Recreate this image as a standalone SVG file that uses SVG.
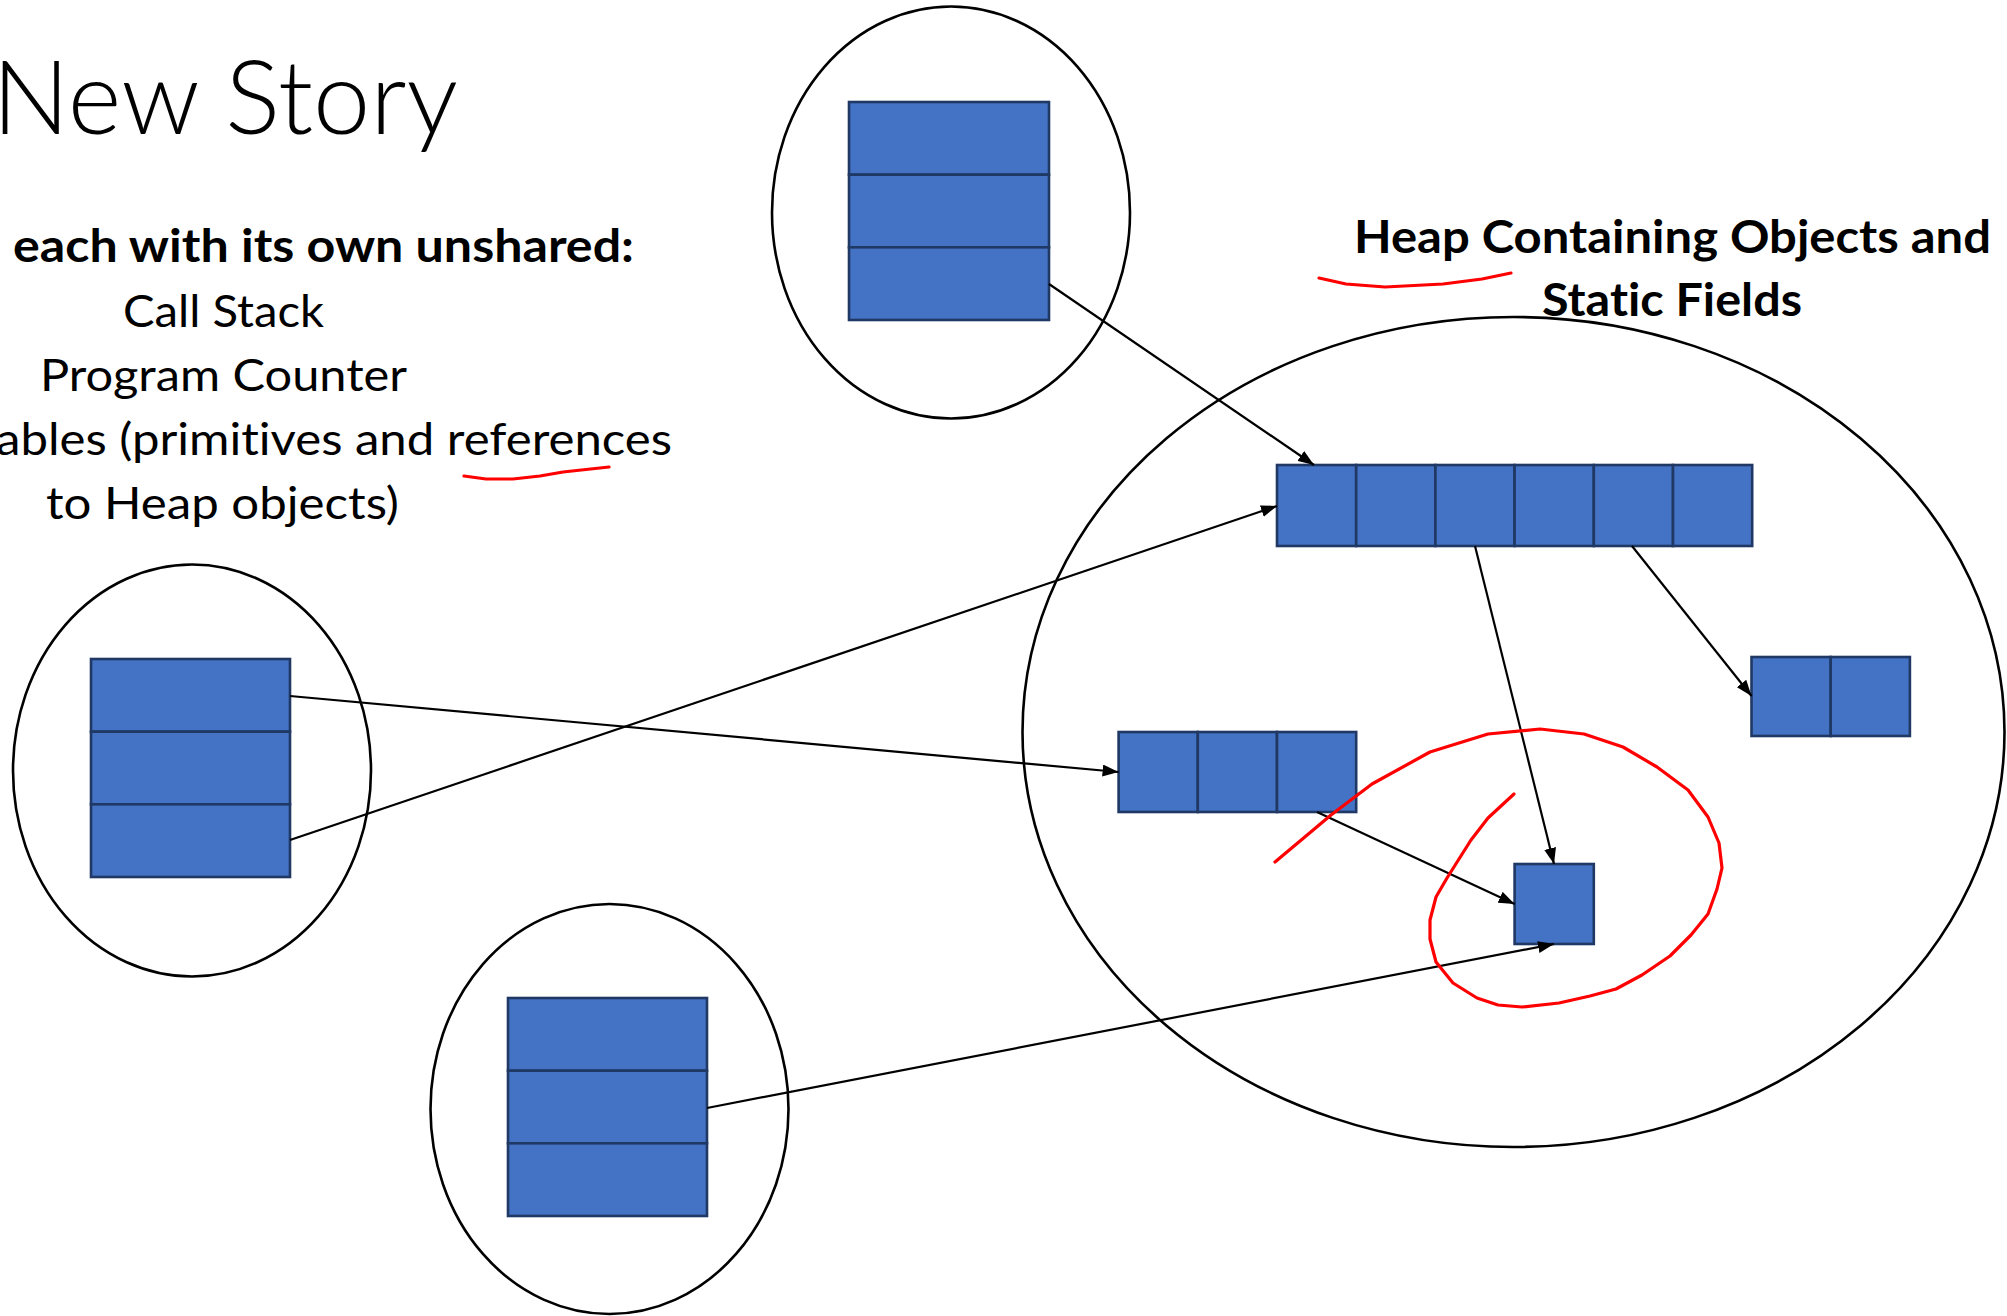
<svg xmlns="http://www.w3.org/2000/svg" width="2007" height="1316" viewBox="0 0 2007 1316">
<defs>
<style>
.bg{fill:#ffffff}
.oval{fill:none;stroke:#000;stroke-width:2.6}
.cell{fill:#4472C4;stroke:#1F3864;stroke-width:2.6}
.conn{fill:none;stroke:#000;stroke-width:2.2}
.ink{fill:none;stroke:#FF0000;stroke-width:3.2;stroke-linejoin:round;stroke-linecap:round}
.t{font-family:Lato,"Liberation Sans",sans-serif;font-size:45px;fill:#000;font-variant-ligatures:none;font-feature-settings:"liga" 0}
.b{font-weight:bold}
.title{font-family:Lato,"Liberation Sans",sans-serif;font-size:103px;font-weight:300;fill:#000;font-variant-ligatures:none}
</style>
<marker id="arr" viewBox="0 0 16 12" markerUnits="userSpaceOnUse" markerWidth="16" markerHeight="12" refX="16" refY="6" orient="auto">
<path d="M0,0 L16,6 L0,12 z" fill="#000"/>
</marker>
</defs>
<rect class="bg" x="0" y="0" width="2007" height="1316"/>

<g id="title-text">
<text class="title" x="-8" y="134" textLength="466" lengthAdjust="spacingAndGlyphs">New Story</text>
</g>

<g id="thread-text">
<text class="t b" x="13" y="262" textLength="621" lengthAdjust="spacingAndGlyphs">each with its own unshared:</text>
<text class="t" x="123" y="327" textLength="201" lengthAdjust="spacingAndGlyphs">Call Stack</text>
<text class="t" x="40" y="391" textLength="367" lengthAdjust="spacingAndGlyphs">Program Counter</text>
<text class="t" x="-4" y="455" textLength="676" lengthAdjust="spacingAndGlyphs">ables (primitives and references</text>
<text class="t" x="46" y="519" textLength="353" lengthAdjust="spacingAndGlyphs">to Heap objects)</text>
</g>

<g id="heap-label">
<text class="t b" x="1354" y="253" textLength="637" lengthAdjust="spacingAndGlyphs">Heap Containing Objects and</text>
<text class="t b" x="1542" y="316" textLength="260" lengthAdjust="spacingAndGlyphs">Static Fields</text>
</g>

<g id="heap">
<ellipse class="oval" cx="1513.5" cy="732" rx="491" ry="415"/>
</g>

<g id="thread-top">
<ellipse class="oval" cx="951" cy="212.5" rx="179" ry="206"/>
<rect class="cell" x="849" y="102" width="200" height="72.7"/>
<rect class="cell" x="849" y="174.7" width="200" height="72.6"/>
<rect class="cell" x="849" y="247.3" width="200" height="72.7"/>
</g>

<g id="thread-left">
<ellipse class="oval" cx="192" cy="770.5" rx="179" ry="206"/>
<rect class="cell" x="91" y="659" width="199" height="72.7"/>
<rect class="cell" x="91" y="731.7" width="199" height="72.6"/>
<rect class="cell" x="91" y="804.3" width="199" height="72.7"/>
</g>

<g id="thread-bottom">
<ellipse class="oval" cx="609.5" cy="1109" rx="179" ry="205"/>
<rect class="cell" x="508" y="998" width="199" height="72.7"/>
<rect class="cell" x="508" y="1070.7" width="199" height="72.6"/>
<rect class="cell" x="508" y="1143.3" width="199" height="72.7"/>
</g>

<g id="array-six">
<rect class="cell" x="1277" y="465" width="79.2" height="81"/>
<rect class="cell" x="1356.2" y="465" width="79.2" height="81"/>
<rect class="cell" x="1435.4" y="465" width="79.2" height="81"/>
<rect class="cell" x="1514.6" y="465" width="79.2" height="81"/>
<rect class="cell" x="1593.8" y="465" width="79.2" height="81"/>
<rect class="cell" x="1673" y="465" width="79.2" height="81"/>
</g>

<g id="array-three">
<rect class="cell" x="1118.6" y="732" width="79.2" height="80"/>
<rect class="cell" x="1197.8" y="732" width="79.2" height="80"/>
<rect class="cell" x="1277" y="732" width="79.2" height="80"/>
</g>

<g id="array-two">
<rect class="cell" x="1751.5" y="657" width="79.2" height="79"/>
<rect class="cell" x="1830.7" y="657" width="79.2" height="79"/>
</g>

<g id="object-single">
<rect class="cell" x="1514.6" y="864" width="79.2" height="80"/>
</g>

<g id="connectors">
<line class="conn" x1="1049" y1="284" x2="1314" y2="465" marker-end="url(#arr)"/>
<line class="conn" x1="290" y1="840" x2="1277" y2="506" marker-end="url(#arr)"/>
<line class="conn" x1="290" y1="696" x2="1118.6" y2="772" marker-end="url(#arr)"/>
<line class="conn" x1="1475" y1="546" x2="1554" y2="864" marker-end="url(#arr)"/>
<line class="conn" x1="1632" y1="546" x2="1751.5" y2="696" marker-end="url(#arr)"/>
<line class="conn" x1="1317" y1="812" x2="1514.6" y2="904" marker-end="url(#arr)"/>
<line class="conn" x1="707" y1="1108" x2="1554" y2="944" marker-end="url(#arr)"/>
</g>

<g id="annotations">
<polyline class="ink" points="464,476 486,479 513,479 540,476 563,472 609,467"/>
<polyline class="ink" points="1319,278 1346,284 1385,287 1443,284 1482,279 1511,273"/>
<polyline class="ink" points="1514,794 1488,818 1471,840 1459,859 1447,878 1436,897 1430,920 1430,939 1436,962 1453,983 1477,998 1498,1005 1522,1007 1559,1003 1590,996 1616,989 1642,975 1670,956 1691,935 1708,914 1717,889 1722,868 1719,843 1708,817 1688,790 1657,767 1623,747 1584,734 1540,729 1488,734 1430,752 1372,784 1331,815 1306,836 1275,862"/>
</g>
</svg>
